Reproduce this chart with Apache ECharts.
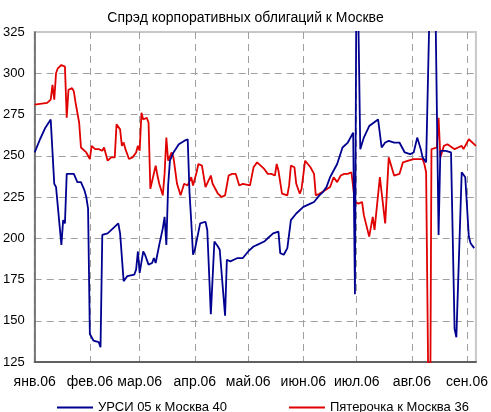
<!DOCTYPE html>
<html>
<head>
<meta charset="utf-8">
<script src="https://cdn.jsdelivr.net/npm/echarts@6/dist/echarts.min.js"></script>
<style>
  html, body { margin: 0; padding: 0; background: #fff; }
  #chart { width: 491px; height: 412px; }
</style>
</head>
<body>
<div id="chart"></div>
<script>
// months shown on the x axis
const monthLabels = ['янв.06', 'фев.06', 'мар.06', 'апр.06', 'май.06', 'июн.06', 'июл.06', 'авг.06', 'сен.06'];
const yTicks = [125, 150, 175, 200, 225, 250, 275, 300, 325];

const blueName = 'УРСИ 05 к Москва 40';
const blueDates = ['01.01', '04.01', '07.01', '10.01', '11.01', '12.01', '13.01', '16.01', '17.01', '18.01',
    '19.01', '23.01', '25.01', '27.01', '29.01', '30.01', '31.01', '01.02', '02.02', '03.02',
    '06.02', '07.02', '08.02', '11.02', '14.02', '17.02', '18.02', '20.02', '22.02', '23.02',
    '26.02', '27.02', '28.02', '01.03', '03.03', '04.03', '06.03', '08.03', '09.03', '10.03',
    '12.03', '14.03', '15.03', '16.03', '17.03', '18.03', '20.03', '23.03', '26.03', '28.03',
    '29.03', '30.03', '31.03', '01.04', '04.04', '07.04', '08.04', '10.04', '12.04', '14.04',
    '15.04', '18.04', '19.04', '21.04', '25.04', '28.04', '01.05', '04.05', '06.05', '10.05',
    '12.05', '15.05', '18.05', '19.05', '21.05', '23.05', '25.05', '28.05', '01.06', '05.06',
    '07.06', '10.06', '12.06', '14.06', '16.06', '20.06', '23.06', '26.06', '29.06', '30.06',
    '01.07', '03.07', '05.07', '08.07', '13.07', '14.07', '15.07', '17.07', '19.07', '22.07',
    '25.07', '28.07', '31.07', '02.08', '04.08', '06.08', '07.08', '09.08', '10.08', '13.08',
    '16.08', '17.08', '20.08', '23.08', '25.08', '26.08', '29.08', '31.08', '01.09', '02.09',
    '03.09', '05.09'];
const blueValues = [252, 260, 267, 272, 273, 233, 231, 196, 211, 209,
    239, 239, 234, 234, 229, 225, 218, 142, 140, 138,
    137, 134, 202, 203, 206, 209, 203, 174, 177, 178,
    178, 181, 192, 179, 192, 190, 184, 185, 188, 185,
    196, 206, 213, 196, 232, 247, 252, 257, 259, 260,
    228, 210, 190, 193, 209, 210, 205, 154, 198, 195,
    193, 153, 187, 186, 188, 188, 192, 195, 196, 198,
    200, 203, 204, 191, 190, 194, 211, 215, 219, 221,
    222, 226, 228, 231, 237, 245, 255, 258, 264, 166,
    400, 254, 261, 268, 272, 273, 255, 258, 259, 258,
    258, 252, 251, 252, 261, 254, 249, 246, 245, 440,
    202, 253, 253, 252, 145, 140, 240, 237, 236, 201,
    197, 194];

const redName = 'Пятерочка к Москва 36';
const redDates = ['01.01', '08.01', '10.01', '11.01', '12.01', '13.01', '14.01', '16.01', '18.01', '19.01',
    '20.01', '22.01', '23.01', '24.01', '26.01', '27.01', '28.01', '30.01', '01.02', '02.02',
    '04.02', '06.02', '08.02', '09.02', '11.02', '13.02', '15.02', '16.02', '18.02', '19.02',
    '20.02', '21.02', '23.02', '25.02', '27.02', '28.02', '01.03', '02.03', '03.03', '05.03',
    '06.03', '07.03', '08.03', '10.03', '11.03', '12.03', '14.03', '15.03', '16.03', '17.03',
    '19.03', '20.03', '22.03', '24.03', '26.03', '28.03', '30.03', '31.03', '02.04', '03.04',
    '05.04', '07.04', '10.04', '11.04', '14.04', '16.04', '18.04', '20.04', '22.04', '24.04',
    '26.04', '28.04', '29.04', '02.05', '04.05', '06.05', '07.05', '10.05', '12.05', '14.05',
    '16.05', '17.05', '18.05', '20.05', '23.05', '24.05', '25.05', '27.05', '28.05', '30.05',
    '31.05', '02.06', '03.06', '05.06', '06.06', '07.06', '08.06', '10.06', '13.06', '16.06',
    '18.06', '20.06', '22.06', '24.06', '26.06', '28.06', '29.06', '30.06', '02.07', '04.07',
    '05.07', '06.07', '08.07', '10.07', '11.07', '12.07', '14.07', '17.07', '19.07', '20.07',
    '22.07', '25.07', '26.07', '27.07', '30.07', '02.08', '07.08', '08.08', '09.08', '10.08',
    '11.08', '12.08', '15.08', '16.08', '17.08', '19.08', '21.08', '25.08', '27.08', '29.08',
    '30.08', '02.09', '03.09', '06.09'];
const redValues = [281, 282, 284, 293, 284, 300, 303, 305, 304, 273,
    290, 291, 289, 282, 270, 255, 254, 252, 248, 256,
    254, 254, 253, 255, 247, 249, 249, 269, 266, 256,
    258, 254, 248, 249, 252, 256, 253, 276, 272, 273,
    270, 230, 231, 244, 238, 233, 226, 239, 261, 247,
    252, 249, 233, 226, 233, 232, 237, 232, 240, 245,
    244, 231, 238, 233, 227, 225, 226, 238, 239, 239,
    232, 233, 232, 232, 243, 246, 245, 242, 239, 239,
    238, 245, 241, 227, 226, 232, 244, 243, 233, 227,
    230, 247, 246, 243, 243, 239, 226, 227, 229, 231,
    237, 234, 238, 239, 239, 240, 239, 222, 221, 222,
    214, 214, 201, 213, 205, 206, 237, 209, 249, 249,
    238, 239, 239, 246, 247, 248, 248, 245, 240, 239,
    30, 254, 255, 273, 249, 256, 257, 254, 255, 256,
    254, 260, 259, 256];

// daily categories from 1 Jan to 6 Sep 2006
const days = [];
const monthStart = {};
for (let d = new Date(Date.UTC(2006, 0, 1)); d <= new Date(Date.UTC(2006, 8, 6)); d.setUTCDate(d.getUTCDate() + 1)) {
    const dd = String(d.getUTCDate()).padStart(2, '0');
    const mm = String(d.getUTCMonth() + 1).padStart(2, '0');
    const key = `${dd}.${mm}`;
    if (d.getUTCDate() === 1) monthStart[key] = monthLabels[d.getUTCMonth()];
    days.push(key);
}
const isMonthStart = (index, value) => monthStart[value] !== undefined;

const pairs = (dates, values) => dates.map((d, i) => [d, values[i]]);

const font = 'Liberation Sans, Arial, sans-serif';
const chart = echarts.init(document.getElementById('chart'));

chart.setOption({
    animation: false,
    backgroundColor: '#fff',
    textStyle: { fontFamily: font },
    title: {
        text: 'Спрэд корпоративных облигаций к Москве',
        left: 'center',
        top: 6,
        textStyle: { fontSize: 14, fontWeight: 'normal', color: '#000', fontFamily: font },
    },
    grid: {
        left: 33,
        right: 14,
        top: 32,
        bottom: 50,
        show: true,
        borderColor: '#c8c8c8',
        borderWidth: 2,
    },
    legend: {
        left: 52,
        top: 396,
        itemGap: 62,
        itemWidth: 36,
        itemHeight: 2,
        icon: 'rect',
        textStyle: { fontSize: 13, color: '#000', fontFamily: font },
        data: [blueName, redName],
    },
    xAxis: {
        type: 'category',
        data: days,
        boundaryGap: false,
        axisLine: { lineStyle: { color: '#606060', width: 2 } },
        axisTick: { show: false },
        axisLabel: {
            interval: isMonthStart,
            formatter: (value) => monthStart[value] || '',
            fontSize: 14,
            color: '#000',
            margin: 13,
            fontFamily: font,
        },
        splitLine: {
            show: true,
            interval: isMonthStart,
            lineStyle: { color: '#a0a0a0', type: [7, 5], width: 1 },
        },
    },
    yAxis: {
        type: 'value',
        min: yTicks[0],
        max: yTicks[yTicks.length - 1],
        interval: 25,
        axisLine: { show: true, lineStyle: { color: '#606060', width: 1.5 } },
        axisTick: { show: false },
        axisLabel: { fontSize: 13, color: '#000', margin: 10, fontFamily: font },
        splitLine: {
            show: true,
            lineStyle: {
                color: yTicks.map((t, i) => (i === 0 || i === yTicks.length - 1 ? 'transparent' : '#a0a0a0')),
                type: [7, 5],
                width: 1,
            },
        },
    },
    series: [
        {
            name: blueName,
            type: 'line',
            data: pairs(blueDates, blueValues),
            showSymbol: false,
            symbol: 'none',
            lineStyle: { color: '#000090', width: 1.8 },
            itemStyle: { color: '#000090' },
            z: 3,
        },
        {
            name: redName,
            type: 'line',
            data: pairs(redDates, redValues),
            showSymbol: false,
            symbol: 'none',
            lineStyle: { color: '#e00000', width: 1.8 },
            itemStyle: { color: '#e00000' },
            z: 2,
        },
    ],
});
</script>
</body>
</html>
